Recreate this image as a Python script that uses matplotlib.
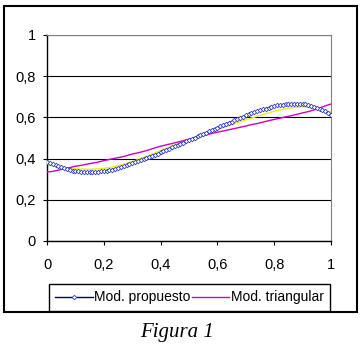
import numpy as np
import matplotlib
matplotlib.use("Agg")
import matplotlib.pyplot as plt
from matplotlib.patches import Rectangle

# Mod. propuesto (step 0.01)
x_prop = np.linspace(0, 1, 101)
y_prop = [0.383, 0.377, 0.372, 0.367, 0.362, 0.357, 0.352, 0.348, 0.345, 0.342, 0.340,
          0.338, 0.337, 0.336, 0.335, 0.335, 0.334, 0.335, 0.336, 0.338, 0.340,
          0.342, 0.345, 0.347, 0.350, 0.354, 0.358, 0.362, 0.367, 0.372, 0.378,
          0.383, 0.388, 0.393, 0.398, 0.404, 0.409, 0.414, 0.419, 0.424, 0.430,
          0.436, 0.442, 0.448, 0.454, 0.460, 0.466, 0.472, 0.478, 0.484, 0.490,
          0.496, 0.502, 0.508, 0.514, 0.520, 0.526, 0.532, 0.538, 0.544, 0.550,
          0.556, 0.562, 0.568, 0.574, 0.580, 0.586, 0.592, 0.598, 0.604, 0.610,
          0.615, 0.620, 0.625, 0.630, 0.635, 0.639, 0.643, 0.647, 0.651, 0.655,
          0.658, 0.660, 0.662, 0.664, 0.665, 0.666, 0.667, 0.667, 0.666, 0.665,
          0.663, 0.660, 0.656, 0.652, 0.647, 0.641, 0.635, 0.629, 0.621, 0.612]

# Mod. triangular (step 0.02)
x_tri = np.linspace(0, 1, 51)
y_tri = [0.335, 0.338, 0.344, 0.350, 0.356, 0.363, 0.367, 0.373, 0.378, 0.383,
         0.390, 0.396, 0.402, 0.407, 0.414, 0.422, 0.428, 0.435, 0.443, 0.452,
         0.460, 0.467, 0.473, 0.480, 0.487, 0.494, 0.500, 0.508, 0.515, 0.522,
         0.528, 0.534, 0.540, 0.546, 0.552, 0.558, 0.565, 0.570, 0.577, 0.584,
         0.590, 0.596, 0.603, 0.608, 0.615, 0.622, 0.628, 0.636, 0.646, 0.656,
         0.665]

# third (unlabelled) yellow curve (step 0.05)
x_yel = np.linspace(0, 1, 21)
y_yel = [0.370, 0.358, 0.350, 0.348, 0.352, 0.365, 0.385, 0.410, 0.440, 0.465,
         0.492, 0.518, 0.540, 0.565, 0.588, 0.610, 0.630, 0.645, 0.652, 0.645,
         0.625]

ticks = [0, 0.2, 0.4, 0.6, 0.8, 1]
tick_labels = ["0", "0,2", "0,4", "0,6", "0,8", "1"]

plt.rcParams['font.family'] = ['Liberation Sans', 'DejaVu Sans']

fig = plt.figure(figsize=(3.61, 3.51), dpi=100)
ax = fig.add_axes([47/361, 1 - 241/351, 284/361, 206/351])

ax.plot(x_yel, y_yel, color='#f0f000', lw=1.0, zorder=2)
ax.plot(x_tri, y_tri, color='#cc00cc', lw=1.0, zorder=3, label='Mod. triangular')
ax.plot(x_prop, y_prop, color='#000080', lw=1.0, marker='D', markersize=2.3,
        markerfacecolor='white', markeredgecolor='#3344cc', markeredgewidth=0.6,
        zorder=4, label='Mod. propuesto')

ax.set_xlim(0, 1)
ax.set_ylim(0, 1)
ax.set_xticks(ticks)
ax.set_xticklabels(tick_labels)
ax.set_yticks(ticks)
ax.set_yticklabels(tick_labels)
ax.tick_params(direction='out', length=3, width=0.8, labelsize=10.5, colors='black')
ax.tick_params(axis='y', pad=5)
ax.tick_params(axis='x', pad=9)
ax.yaxis.grid(True, color='black', lw=0.8)
ax.set_axisbelow(True)
for s in ['left', 'bottom']:
    ax.spines[s].set_color('black')
    ax.spines[s].set_linewidth(1.0)
for s in ['top', 'right']:
    ax.spines[s].set_color('#808080')
    ax.spines[s].set_linewidth(0.8)

handles, labels = ax.get_legend_handles_labels()
leg = fig.legend(handles[::-1], labels[::-1], loc='center', ncol=2,
                 bbox_to_anchor=(189.5/361, 1 - 297.5/351), fontsize=10,
                 fancybox=False, framealpha=1, edgecolor='black',
                 handlelength=2.7, handletextpad=0.1, columnspacing=0.1,
                 borderpad=0.45, borderaxespad=0)
leg.get_frame().set_linewidth(1.0)

fig.patches.append(Rectangle((4/361, 1 - 312/351), 353/361, 306/351,
                             transform=fig.transFigure, fill=False,
                             edgecolor='black', lw=1.5))

fig.text(0.49, 1 - 333/351, "Figura 1", ha='center', va='center',
         fontsize=15, style='italic', family='Liberation Serif')

fig.savefig("out.png", dpi=100)
